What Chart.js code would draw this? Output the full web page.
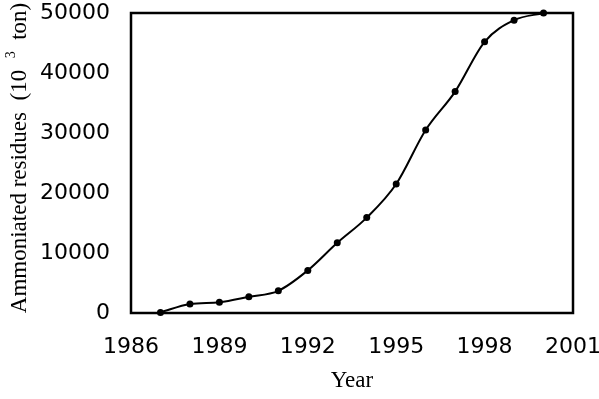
<!DOCTYPE html>
<html><head><meta charset="utf-8">
<script src="https://cdn.jsdelivr.net/npm/chart.js@4"></script>
<style>html,body{margin:0;padding:0;background:#fff}#wrap{width:599px;height:399px}</style>
</head><body><div id="wrap"><canvas id="c" width="599" height="399"></canvas></div>
<script>
const years = [1987, 1988, 1989, 1990, 1991, 1992, 1993, 1994, 1995, 1996, 1997, 1998, 1999, 2000];
const residues = [100, 1500, 1800, 2700, 3700, 7100, 11700, 15900, 21500, 30500, 36900, 45200, 48800, 50000];
const xTitle = 'Year';
const yTitleParts = ['Ammoniated residues  (10  ', '3', '  ton)'];

const frame = {
  id: 'frame',
  afterDatasetsDraw(chart) {
    const a = chart.chartArea, ctx = chart.ctx;
    ctx.save();
    ctx.strokeStyle = '#000';
    ctx.lineWidth = 2.5;
    ctx.strokeRect(a.left, a.top, a.right - a.left, a.bottom - a.top);
    ctx.restore();
  }
};

const yTitlePlugin = {
  id: 'ytitle',
  afterDraw(chart) {
    const ctx = chart.ctx, a = chart.chartArea;
    const main = '23px "Liberation Serif"', sup = '14px "Liberation Serif"';
    ctx.save();
    ctx.fillStyle = '#000';
    ctx.textBaseline = 'alphabetic';
    ctx.textAlign = 'left';
    ctx.font = main;
    const w1 = ctx.measureText(yTitleParts[0]).width;
    const w3 = ctx.measureText(yTitleParts[2]).width;
    ctx.font = sup;
    const w2 = ctx.measureText(yTitleParts[1]).width;
    const total = w1 + w2 + w3;
    ctx.translate(26, (a.top + a.bottom) / 2 - 5);
    ctx.rotate(-Math.PI / 2);
    let x = -total / 2;
    ctx.font = main;
    ctx.fillText(yTitleParts[0], x, 0); x += w1;
    ctx.font = sup;
    ctx.fillText(yTitleParts[1], x, -11); x += w2;
    ctx.font = main;
    ctx.fillText(yTitleParts[2], x, 0);
    ctx.restore();
  }
};

new Chart(document.getElementById('c'), {
  type: 'line',
  data: {
    datasets: [{
      data: years.map((y, i) => ({x: y, y: residues[i]})),
      borderColor: '#000',
      backgroundColor: '#000',
      borderWidth: 2,
      pointRadius: 3.5,
      pointBackgroundColor: '#000',
      pointBorderWidth: 0,
      cubicInterpolationMode: 'monotone',
      clip: false
    }]
  },
  options: {
    responsive: false,
    animation: false,
    plugins: { legend: {display: false}, tooltip: {enabled: false} },
    layout: { autoPadding: false, padding: {left: 0, right: 26, top: 13, bottom: 0} },
    scales: {
      x: {
        type: 'linear', min: 1986, max: 2001,
        afterFit(s) { s.height = 86; s.paddingLeft = 0; s.paddingRight = 0; },
        grid: {display: false, drawTicks: false},
        border: {display: false},
        ticks: { stepSize: 3, color: '#000', padding: 21, maxRotation: 0,
          font: {family: 'DejaVu Sans', size: 22}, callback: v => String(v) },
        title: { display: true, text: xTitle, color: '#000', padding: {top: 16},
          font: {family: 'Liberation Serif', size: 23} }
      },
      y: {
        min: 0, max: 50000,
        afterFit(s) { s.width = 131; s.paddingTop = 0; s.paddingBottom = 0; },
        grid: {display: false, drawTicks: false},
        border: {display: false},
        ticks: { stepSize: 10000, color: '#000', padding: 21,
          font: {family: 'DejaVu Sans', size: 22}, callback: v => String(v) },
        title: { display: false }
      }
    }
  },
  plugins: [frame, yTitlePlugin]
});
</script></body></html>
